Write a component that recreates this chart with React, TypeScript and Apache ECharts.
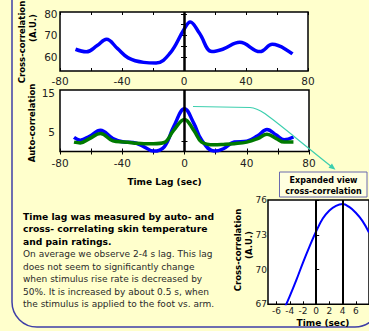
import React, { useEffect, useRef } from "react";
import * as echarts from "echarts";

// ---- data ----
const lagTop = [-70, -63, -56, -50, -43, -36, -26, -18, -9, 0, 4, 10, 18, 25, 36, 49, 57, 70];
const crossTop = [63.6, 62.4, 65.3, 68.2, 64.0, 59.6, 57.5, 57.2, 61.8, 72.8, 76.3, 71.0, 62.5, 63.6, 66.8, 62.5, 65.9, 61.4];

const lagAuto = [-71, -67, -61, -54, -46, -39, -33, -26, -20, -13, -7, 0, 6, 11, 19, 25, 32, 40, 47, 53, 59, 64, 70];
const autoBlue = [3.6, 2.9, 3.9, 5.4, 3.3, 2.4, 2.3, 1.2, 0.1, 1.2, 6.3, 10.9, 7.2, 2.9, 0.1, 0.7, 2.4, 2.6, 4.0, 5.6, 4.2, 3.0, 3.7];
const autoGreen = [2.4, 2.2, 3.3, 4.6, 2.7, 2.4, 2.2, 2.0, 2.0, 2.3, 5.4, 8.2, 5.4, 2.4, 1.7, 1.8, 2.0, 2.4, 3.3, 4.4, 3.3, 2.4, 2.4];

const lagInset = [-5, -4, -3, -2, -1, 0, 1, 2, 3, 4, 5, 6, 7, 8];
const crossInset = [66.4, 67.7, 69.1, 70.6, 72.0, 73.3, 74.4, 75.1, 75.5, 75.65, 75.4, 74.9, 74.2, 73.2];

const lagLabels = [-80, -40, 0, 40, 80];
const lagTicks = [-80, -60, -40, -20, 0, 20, 40, 60, 80];
const crossLabels = [60, 70, 80];
const crossTicks = [60, 65, 70, 75, 80];
const autoLabels = [5, 15];
const autoTicks = [2.6, 10.6];
const insetXLabels = [-6, -4, -2, 0, 2, 4, 6];
const insetYLabels = [67, 70, 73, 76];
const markerLags = [0, 4];

const boldLines = [
  "Time lag was measured by auto- and",
  "cross- correlating skin temperature",
  "and pain ratings.",
];
const normalLines = [
  "On average we observe 2-4 s lag. This lag",
  "does not seem to significantly change",
  "when stimulus rise rate is decreased by",
  "50%. It is increased by about 0.5 s, when",
  "the stimulus is applied to the foot vs. arm.",
];

const FONT = "DejaVu Sans";
const BG = "#FFFFCC";

const zip = (xs: number[], ys: number[]) => xs.map((x, i) => [x, ys[i]]);

function axisX(grid: number, min: number, max: number, labels: number[], ticks: number[], top: boolean, margin: number, fontSize: number) {
  return {
    type: "value",
    gridIndex: grid,
    position: top ? "top" : "bottom",
    min,
    max,
    axisLine: { show: false },
    splitLine: { show: false },
    axisTick: { show: true, inside: true, length: 3, customValues: ticks, lineStyle: { color: "#000", width: 1 } },
    axisLabel: {
      show: !top,
      customValues: labels,
      margin,
      fontSize,
      fontFamily: FONT,
      color: "#222",
    },
  };
}

function axisY(grid: number, min: number, max: number, labels: number[], ticks: number[], right: boolean, margin: number, fontSize: number) {
  return {
    type: "value",
    gridIndex: grid,
    position: right ? "right" : "left",
    min,
    max,
    axisLine: { show: false },
    splitLine: { show: false },
    axisTick: { show: true, inside: true, length: 3, customValues: ticks, lineStyle: { color: "#000", width: 1 } },
    axisLabel: {
      show: !right,
      customValues: labels,
      margin,
      fontSize,
      fontFamily: FONT,
      color: "#222",
    },
  };
}

function txt(text: string, x: number, y: number, size: number, bold: boolean, align = "left", rot = 0) {
  return {
    type: "text",
    x,
    y,
    rotation: rot,
    z: 50,
    style: {
      text,
      fontSize: size,
      fontWeight: bold ? "bold" : "normal",
      fontFamily: FONT,
      fill: bold ? "#000" : "#2a2a2a",
      textAlign: align,
      textVerticalAlign: "middle",
    },
  };
}

export default function App() {
  const ref = useRef<HTMLDivElement>(null);
  useEffect(() => {
    if (!ref.current) return;
    const chart = echarts.init(ref.current, undefined, { renderer: "svg" });
    const gridStyle = { show: true, backgroundColor: "#fff", borderColor: "#000", borderWidth: 1.5 };
    const vLine = (lags: number[], w: number) => ({
      silent: true,
      symbol: ["none", "none"],
      label: { show: false },
      lineStyle: { color: "#000", width: w, type: "solid" },
      data: lags.map((l) => ({ xAxis: l })),
    });

    const graphic: any[] = [
      {
        type: "rect",
        z: 1,
        shape: { x: 12, y: -40, width: 368, height: 367, r: 25 },
        style: { fill: "none", stroke: "#3f3fa6", lineWidth: 1.5 },
      },
      // axis titles
      txt("Cross-correlation", 21.5, 42, 8.5, true, "center", Math.PI / 2),
      txt("(A.U.)", 33, 28, 8.5, true, "center", Math.PI / 2),
      txt("Auto-correlation", 32, 123, 8.5, true, "center", Math.PI / 2),
      txt("Time Lag (sec)", 164.5, 181.7, 9, true, "center"),
      txt("Cross-correlation", 238, 250, 8.5, true, "center", Math.PI / 2),
      txt("(A.U.)", 248.5, 245, 8.5, true, "center", Math.PI / 2),
      txt("Time (sec)", 323, 322.5, 9, true, "center"),
      // arrow
      {
        type: "polyline",
        z: 40,
        shape: { points: [[193, 106.5], [250, 107.5]] },
        style: { stroke: "#3ccfae", lineWidth: 1.2, fill: "none" },
      },
      {
        type: "bezierCurve",
        z: 40,
        shape: { x1: 250, y1: 107.5, cpx1: 261, cpy1: 108, cpx2: 267, cpy2: 115, x2: 331, y2: 166.3 },
        style: { stroke: "#3ccfae", lineWidth: 1.2, fill: "none" },
      },
      {
        type: "polygon",
        z: 40,
        shape: { points: [[335.5, 169.8], [328.5, 167.8], [332, 163.4]] },
        style: { fill: "#3ccfae" },
      },
      // expanded view box
      {
        type: "rect",
        z: 45,
        shape: { x: 279.5, y: 172, width: 87.5, height: 25 },
        style: { fill: "#FFFFE0", stroke: "#6a6aae", lineWidth: 1 },
      },
      txt("Expanded view", 323.5, 180.5, 8, true, "center"),
      txt("cross-correlation", 323.5, 191.5, 8, true, "center"),
    ];
    const boldY = [216, 228.8, 241.6];
    boldLines.forEach((l, i) => graphic.push(txt(l, 23, boldY[i], 9.2, true)));
    const normY = [254.3, 266.8, 279.3, 291.8, 304.4];
    normalLines.forEach((l, i) => graphic.push(txt(l, 23, normY[i], 9, false)));

    chart.setOption({
      animation: false,
      backgroundColor: BG,
      grid: [
        { left: 60, top: 12, width: 248, height: 59, ...gridStyle },
        { left: 60, top: 90, width: 249, height: 61.5, ...gridStyle },
        { left: 268, top: 200, width: 112, height: 104.3, ...gridStyle },
      ],
      xAxis: [
        axisX(0, -80, 80, lagLabels, lagTicks, false, 4, 10.5),
        axisX(0, -80, 80, lagLabels, lagTicks, true, 4, 10.5),
        axisX(1, -80, 80, lagLabels, lagTicks, false, 6, 10.5),
        axisX(1, -80, 80, lagLabels, lagTicks, true, 6, 10.5),
        axisX(2, -7.3, 8, insetXLabels, insetXLabels, false, 2, 9),
      ],
      yAxis: [
        axisY(0, 53.5, 80.9, crossLabels, crossTicks, false, 2.5, 10.5),
        axisY(0, 53.5, 80.9, crossLabels, crossTicks, true, 2.5, 10.5),
        axisY(1, 0, 15.7, autoLabels, autoTicks, false, 5, 10.5),
        axisY(1, 0, 15.7, autoLabels, autoTicks, true, 5, 10.5),
        axisY(2, 67, 76, insetYLabels, insetYLabels, false, 1, 9),
      ],
      series: [
        {
          type: "line",
          xAxisIndex: 0,
          yAxisIndex: 0,
          data: zip(lagTop, crossTop),
          smooth: 0.4,
          showSymbol: false,
          lineStyle: { color: "#0000ff", width: 3.5 },
          markLine: vLine([markerLags[0]], 2.5),
        },
        {
          type: "line",
          xAxisIndex: 2,
          yAxisIndex: 2,
          data: zip(lagAuto, autoBlue),
          smooth: 0.4,
          showSymbol: false,
          lineStyle: { color: "#0000ff", width: 3.5 },
        },
        {
          type: "line",
          xAxisIndex: 2,
          yAxisIndex: 2,
          data: zip(lagAuto, autoGreen),
          smooth: 0.4,
          showSymbol: false,
          lineStyle: { color: "#007a00", width: 3.5 },
          markLine: vLine([markerLags[0]], 2.5),
        },
        {
          type: "line",
          xAxisIndex: 4,
          yAxisIndex: 4,
          data: zip(lagInset, crossInset),
          smooth: 0.4,
          showSymbol: false,
          lineStyle: { color: "#0000ff", width: 2 },
          markLine: vLine(markerLags, 2),
        },
      ],
      graphic,
    });
    return () => chart.dispose();
  }, []);
  return (
    <div
      ref={ref}
      style={{ position: "absolute", left: 0, top: 0, width: 369, height: 331, background: BG }}
    />
  );
}
